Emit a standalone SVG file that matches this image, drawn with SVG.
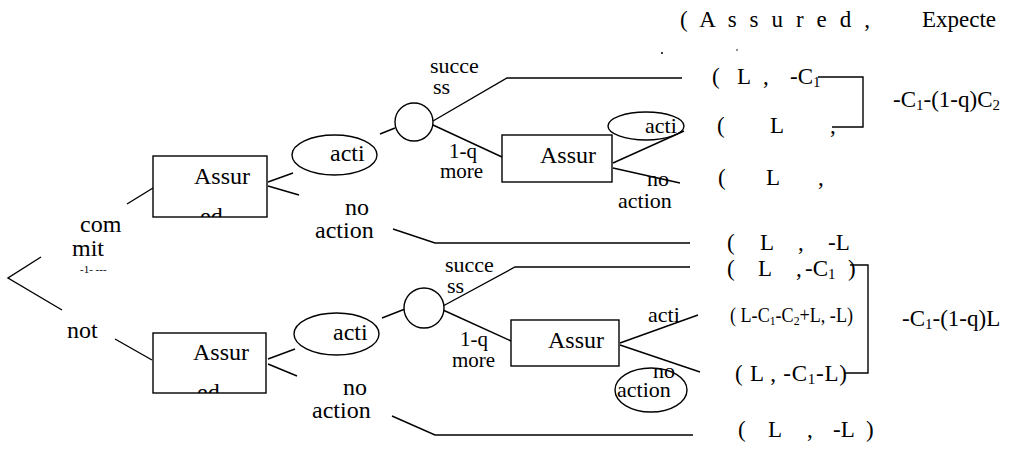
<svg xmlns="http://www.w3.org/2000/svg" width="1015" height="449" viewBox="0 0 1015 449" font-family="'Liberation Serif','DejaVu Serif',serif">
<style>
text{font-family:'Liberation Serif','DejaVu Serif',serif;font-size:24px;fill:#000}
.s{font-size:22px}
.m{font-size:21px}
.p{font-size:23px}
.sub{font-size:15px}
.sub2{font-size:13px}
.ln{stroke:#000;stroke-width:1.4;fill:none}
.nd{stroke:#000;stroke-width:1.4;fill:#fff}
</style>
<defs>
<clipPath id="c1"><rect x="153" y="200" width="114" height="17"/></clipPath>
<clipPath id="c2"><rect x="153" y="375" width="113" height="18"/></clipPath>
</defs>
<rect width="1015" height="449" fill="#fff"/>
<g id="connectors">
<polyline class="ln" points="41,257 8,278 62,310"/>
<line class="ln" x1="127" y1="204" x2="153" y2="188"/>
<line class="ln" x1="115" y1="339" x2="152" y2="360"/>
<line class="ln" x1="268" y1="182" x2="293" y2="173"/>
<line class="ln" x1="268" y1="186" x2="299" y2="195"/>
<polyline class="ln" points="393,229 435,243 690,243"/>
<line class="ln" x1="380" y1="134" x2="395" y2="128"/>
<polyline class="ln" points="433,121 507,78 682,78"/>
<line class="ln" x1="433" y1="125" x2="502" y2="157"/>
<line class="ln" x1="613" y1="163" x2="684" y2="131"/>
<line class="ln" x1="613" y1="168" x2="680" y2="183"/>
<line class="ln" x1="268" y1="359" x2="295" y2="349"/>
<line class="ln" x1="268" y1="364" x2="297" y2="376"/>
<polyline class="ln" points="392,416 435,435 693,435"/>
<line class="ln" x1="382" y1="318" x2="405" y2="309"/>
<polyline class="ln" points="443,306 515,267 690,267"/>
<line class="ln" x1="443" y1="310" x2="511" y2="341"/>
<line class="ln" x1="620" y1="343" x2="698" y2="315"/>
<line class="ln" x1="620" y1="345" x2="700" y2="372"/>
<polyline class="ln" points="818,77 863,77 863,127 832,127"/>
<polyline class="ln" points="850,265 868,265 868,373 845,373"/>
</g>
<g id="root-labels">
<text x="80" y="232">com</text>
<text x="72" y="256">mit</text>
<text x="80" y="273" style="font-size:11px">-1- ---</text>
<text x="67" y="338">not</text>
</g>
<g id="box1">
<rect class="nd" x="153" y="156" width="114" height="61"/>
<text x="194" y="184">Assur</text>
<text x="200" y="224" clip-path="url(#c1)">ed</text>
</g>
<g id="box2">
<rect class="nd" x="153" y="333" width="113" height="60"/>
<text x="193" y="360">Assur</text>
<text x="197" y="400" clip-path="url(#c2)">ed</text>
</g>
<g id="act1">
<ellipse class="nd" cx="334.5" cy="155" rx="42.5" ry="20"/>
<text x="330" y="161">acti</text>
</g>
<g id="act2">
<ellipse class="nd" cx="336.5" cy="334" rx="42.5" ry="21"/>
<text x="333" y="340">acti</text>
</g>
<g id="noact1"><text x="345" y="215">no</text><text x="315" y="238">action</text></g>
<g id="noact2"><text x="343" y="395">no</text><text x="312" y="418">action</text></g>
<g id="chance1">
<circle class="nd" cx="414" cy="122" r="19"/>
<text class="s" x="430" y="73">succe</text><text class="s" x="433" y="94">ss</text>
<text class="m" x="449" y="158">1-q</text><text class="m" x="440" y="178">more</text>
</g>
<g id="chance2">
<circle class="nd" cx="424" cy="308" r="20"/>
<text class="s" x="445" y="272">succe</text><text class="s" x="447" y="293">ss</text>
<text class="m" x="460" y="346">1-q</text><text class="m" x="452" y="367">more</text>
</g>
<g id="box3">
<rect class="nd" x="502" y="135" width="110" height="47"/>
<text x="540" y="163">Assur</text>
</g>
<g id="act3">
<ellipse class="ln" cx="646" cy="126" rx="38" ry="14"/>
<text class="s" x="645" y="133">acti</text>
</g>
<g id="noact3"><text class="s" x="647" y="186">no</text><text class="s" x="618" y="208">action</text></g>
<g id="box4">
<rect class="nd" x="511" y="320" width="108" height="46"/>
<text x="548" y="348">Assur</text>
</g>
<g id="act4"><text class="s" x="648" y="322">acti</text></g>
<g id="noact4">
<ellipse class="ln" cx="651" cy="390" rx="36" ry="22"/>
<text class="s" x="653" y="378">no</text><text class="s" x="617" y="397">action</text>
</g>
<g id="header">
<text class="p" x="680" y="27" textLength="190" lengthAdjust="spacing">( A s s u r e d ,</text>
<text class="p" x="922" y="27">Expecte</text>
<circle cx="662" cy="53" r="1" fill="#000"/>
<circle cx="737" cy="50" r="0.8" fill="#000"/>
</g>
<g id="payoffs">
<text class="p" y="84"><tspan x="712">(</tspan><tspan x="737">L</tspan><tspan x="763">,</tspan><tspan x="790">-C</tspan><tspan class="sub" dy="3">1</tspan></text>
<text class="p" y="133"><tspan x="717">(</tspan><tspan x="770">L</tspan><tspan x="830">,</tspan></text>
<text class="p" y="185"><tspan x="718">(</tspan><tspan x="766">L</tspan><tspan x="818">,</tspan></text>
<text class="p" y="250"><tspan x="727">(</tspan><tspan x="760">L</tspan><tspan x="798">,</tspan><tspan x="828">-L</tspan></text>
<text class="p" y="276"><tspan x="727">(</tspan><tspan x="758">L</tspan><tspan x="796">,</tspan><tspan x="805">-C</tspan><tspan class="sub" dy="3">1</tspan><tspan dy="-3" x="848">)</tspan></text>
<text x="730" y="322" style="font-size:20px" textLength="123" lengthAdjust="spacingAndGlyphs">( L-C<tspan class="sub2" dy="3">1</tspan><tspan dy="-3">-C</tspan><tspan class="sub2" dy="3">2</tspan><tspan dy="-3">+L, -L)</tspan></text>
<text class="p" x="735" y="381" textLength="112" lengthAdjust="spacing">( L , -C<tspan class="sub" dy="3">1</tspan><tspan dy="-3">-L)</tspan></text>
<text class="p" y="437"><tspan x="738">(</tspan><tspan x="768">L</tspan><tspan x="807">,</tspan><tspan x="833">-L</tspan><tspan x="866">)</tspan></text>
</g>
<g id="expected">
<text class="p" x="893" y="107">-C<tspan class="sub" dy="3">1</tspan><tspan dy="-3">-(1-q)C</tspan><tspan class="sub" dy="3">2</tspan></text>
<text class="p" x="902" y="326">-C<tspan class="sub" dy="3">1</tspan><tspan dy="-3">-(1-q)L</tspan></text>
</g>
</svg>
